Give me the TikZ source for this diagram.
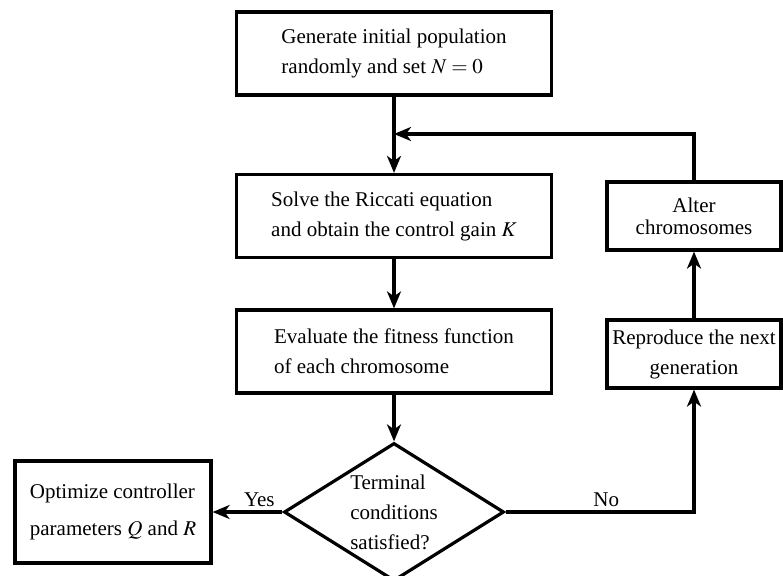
\documentclass[tikz,border=0pt]{standalone}
\usepackage{mathptmx}
\usepackage{fontspec}
\setmainfont{Liberation Serif}
\usetikzlibrary{shapes.geometric,positioning,arrows.meta}

\begin{document}
\begin{tikzpicture}[
  ->,
  >={Stealth[length=17pt,width=14pt,inset=5pt]},
  line width=3.2pt,
  on grid,
  font=\fontsize{21}{30}\selectfont,
  box/.style={
    draw,
    rectangle,
    minimum width=315pt,
    minimum height=83pt,
    inner sep=0pt,
    align=left
  },
  sidebox/.style={
    draw,
    rectangle,
    minimum width=174pt,
    minimum height=68pt,
    inner sep=0pt,
    align=center
  },
  decision/.style={
    draw,
    diamond,
    minimum width=220pt,
    minimum height=138pt,
    inner sep=-30pt,
    align=left
  }
]
\useasboundingbox (0,0) rectangle (783pt,-575pt);
\node[box] (gen) at (394pt,-53.5pt) {Generate initial population\\
  randomly and set $N=0$};
\node[box] (solve) [below=162.5pt of gen] {Solve the Riccati equation\\
  and obtain the control gain $K$};
\node[box] (eval) [below=135.5pt of solve] {Evaluate the fitness function\\
  of each chromosome};
\node[decision] (term) [below=160.5pt of eval] {Terminal\\
  conditions\\
  satisfied?};
\node[box, minimum width=196pt, minimum height=102pt] (opt) [left=281pt of term] {Optimize controller\\[7pt]
  parameters $Q$ and $R$};
\node[sidebox] (alter) [right=300pt of solve] {Alter\\[-8pt]
  chromosomes};
\node[sidebox] (repro) [right=300pt of eval, yshift=-2.5pt] {Reproduce the next\\
  generation};
\coordinate (join) at (gen |- 0,-134pt);

\draw (gen) -- (solve);
\draw (solve) -- (eval);
\draw (eval) -- (term);
\draw (term) -- node[above, pos=0.33] {Yes} (opt);
\draw (term.east) -| node[above, pos=0.267] {No} (repro);
\draw (repro) -- (alter);
\draw (alter) |- (join);
\end{tikzpicture}
\end{document}
